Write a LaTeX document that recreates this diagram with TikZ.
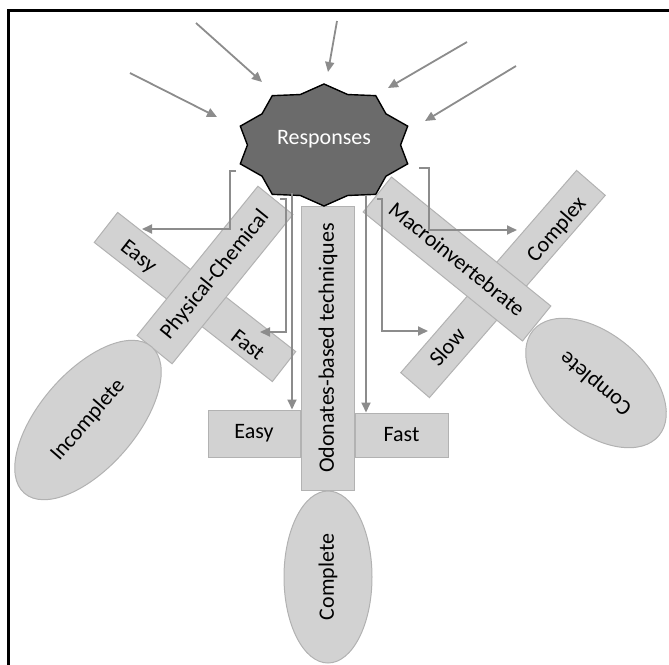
\documentclass[tikz,border=0pt]{standalone}
\usepackage{fontspec}
\setmainfont{Carlito}
\usetikzlibrary{shapes.geometric, arrows.meta}
\definecolor{barfill}{HTML}{D2D2D2}
\definecolor{barline}{HTML}{B2B2B2}
\definecolor{flowgray}{HTML}{8C8C8C}
\definecolor{starfill}{HTML}{6B6B6B}
\tikzset{>=latex}
\tikzset{labelfont/.style={font=\fontsize{22}{26}\selectfont}}
\tikzset{bar/.style={draw=barline, fill=barfill, line width=1pt, inner sep=0pt, labelfont}}
\tikzset{blob/.style={ellipse, draw=barline, fill=barfill, line width=1pt, inner sep=0pt, labelfont}}
\tikzset{lbl/.style={inner sep=0pt, labelfont}}
\tikzset{flow/.style={flowgray, line width=1.8pt, -{Triangle[length=10pt, width=9pt]}}}
\tikzset{burst/.style={draw=black, fill=starfill, line width=1.4pt, line join=miter}}

\begin{document}
\begin{tikzpicture}[x=1pt, y=-1pt, line cap=butt]
	\useasboundingbox (0,0) rectangle (669,664);

	% Physical-Chemical cross
	\node[bar, minimum width=226, minimum height=38, rotate=-38] (pcside) at (195,297) {};
	\node[lbl, rotate=-38] (pceasy) at (138,257) {Easy};
	\node[lbl, rotate=-38] (pcfast) at (248,345) {Fast};
	\node[bar, minimum width=192, minimum height=45, rotate=51] (physchem) at (215,275) {Physical-Chemical};

	% Macroinvertebrate cross
	\node[bar, minimum width=268, minimum height=38, rotate=49] (mcside) at (503,284) {};
	\node[lbl, rotate=49] (mccomplex) at (557,230) {Complex};
	\node[lbl, rotate=49] (mcslow) at (447,347) {Slow};
	\node[bar, minimum width=205, minimum height=45, rotate=-39] (macro) at (457,259) {Macroinvertebrate};

	% Odonates cross
	\node[bar, minimum width=92, minimum height=47] (odeasy) at (254,433.5) {Easy};
	\node[bar, minimum width=93, minimum height=44] (odfast) at (401.5,435) {Fast};
	\node[bar, minimum width=284, minimum height=53, rotate=90] (odonates) at (328,348) {Odonates-based techniques};

	% Outcomes
	\node[blob, minimum width=194, minimum height=96, rotate=49] (incomplete) at (88,420) {Incomplete};
	\node[blob, minimum width=164, minimum height=98, rotate=140] (completeR) at (596,383) {Complete};
	\node[blob, minimum width=172, minimum height=88, rotate=90] (completeB) at (328,577) {Complete};

	% Responses burst
	\draw[burst] plot[samples at={0,...,19}, variable=\k]
		({324+88*(1-0.13*mod(\k,2))*cos(90+18*\k)}, {145-61*(1-0.13*mod(\k,2))*sin(90+18*\k)}) -- cycle;
	\node[lbl, text=white] (resp) at (324,139) {Responses};

	% Arrows into Responses
	\foreach \i/\sx/\sy/\ex/\ey in {1/130/73/217/117, 2/196/23/262/82, 3/337/21/328/72, 4/467/42/388/88, 5/516/66/425/121}
	{
		\coordinate (src\i) at (\sx,\sy);
		\coordinate (tip\i) at (\ex,\ey);
		\draw[flow] (src\i) -- (tip\i);
	}

	% Arrows out of Responses
	\coordinate (pcEasyIn) at (142,229);
	\coordinate (pcFastIn) at (260,332);
	\coordinate (mcSlowIn) at (428,331);
	\coordinate (mcComplexIn) at (517,230);
	\coordinate (stemL) at (292,193);
	\coordinate (stemR) at (366,195);
	\draw[flow] (236,171) -- (230,171) |- (pcEasyIn);
	\draw[flow] (280,199) -- (286,199) |- (pcFastIn);
	\draw[flow] (stemL) -- (stemL |- odeasy.north);
	\draw[flow] (stemR) -- (stemR |- odfast.north);
	\draw[flow] (377,199) -- (382,199) |- (mcSlowIn);
	\draw[flow] (419,168) -- (429,168) |- (mcComplexIn);

	% Frame
	\draw[line width=3pt, line cap=rect] (8,664) -- (8,10) -- (669,10);
\end{tikzpicture}
\end{document}
